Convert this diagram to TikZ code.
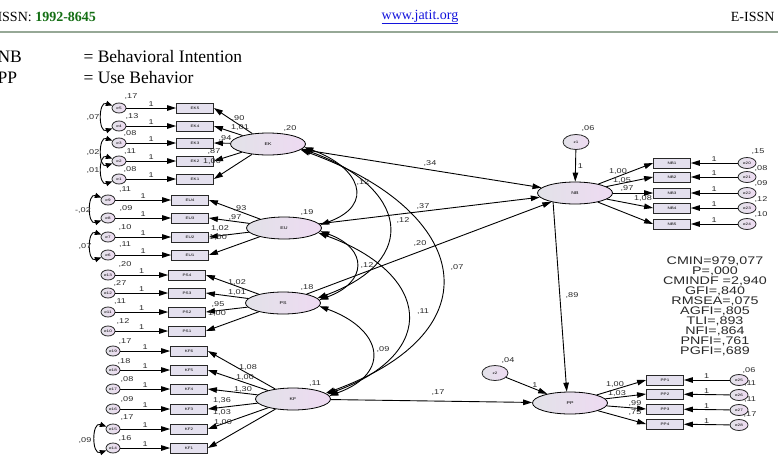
\documentclass[tikz,border=0pt]{standalone}
\usepackage{fontspec}
\setmainfont{Liberation Serif}
\newfontfamily\amos[FakeStretch=1.3]{Liberation Sans}
\usetikzlibrary{arrows.meta,shapes.geometric}
\definecolor{boxfill}{RGB}{228,224,238}
\definecolor{latl}{RGB}{226,226,232}
\definecolor{latr}{RGB}{238,218,242}
\definecolor{jgreen}{RGB}{20,110,20}
\definecolor{jblue}{RGB}{20,20,220}
\definecolor{rulec}{RGB}{150,168,150}
\definecolor{ink}{RGB}{40,40,40}

\begin{document}
\begin{tikzpicture}[x=1pt, y=-1pt,
    obs/.style={rectangle, draw=ink, thick, fill=boxfill, minimum width=37pt, minimum height=10pt, inner sep=0pt, font=\amos\fontsize{3.5}{4}\selectfont},
    lat/.style={ellipse, draw=black, thick, left color=latl, right color=latr, minimum width=75pt, minimum height=22pt, inner sep=0pt, font=\amos\fontsize{4}{4}\selectfont},
    err/.style={ellipse, draw=ink, thick, left color=latl, right color=latr, minimum width=14pt, minimum height=10pt, inner sep=0pt, font=\amos\fontsize{3.5}{4}\selectfont},
    rerr/.style={err, minimum width=18pt, minimum height=11pt},
    dist/.style={err, minimum width=26pt, minimum height=15pt},
    lbl/.style={font=\amos\fontsize{7}{7}\selectfont, text=ink, inner sep=0pt},
    arr/.style={-{Triangle[length=9pt,width=5.5pt]}, line width=0.9pt},
    cov/.style={{Triangle[length=9pt,width=5.5pt]}-{Triangle[length=9pt,width=5.5pt]}, line width=0.9pt, out=-20, in=20, looseness=1.9},
    ecov/.style={{Triangle[length=6.5pt,width=5pt]}-{Triangle[length=6.5pt,width=5pt]}, line width=0.9pt, out=160, in=200, looseness=1.7}
]
    \useasboundingbox (0,0) rectangle (778,464);

    % Page header and key
    \node[anchor=west, font=\fontsize{14}{14}\selectfont] (issn) at (-6,17) {ISSN: \textcolor{jgreen}{\textbf{1992-8645}}};
    \node[font=\fontsize{14}{14}\selectfont, text=jblue] (web) at (420,17) {\underline{www.jatit.org}};
    \node[anchor=east, font=\fontsize{14}{14}\selectfont] (eissn) at (778,17) {E-ISSN};
    \draw[rulec, line width=1.2pt] (0,32) -- (778,32);
    \node[anchor=west, font=\fontsize{17.5}{18}\selectfont] (nbkey) at (-6,57) {NB};
    \node[anchor=west, font=\fontsize{17.5}{18}\selectfont] (nbtext) at (80,57) {= Behavioral Intention};
    \node[anchor=west, font=\fontsize{17.5}{18}\selectfont] (ppkey) at (-6,78) {PP};
    \node[anchor=west, font=\fontsize{17.5}{18}\selectfont] (pptext) at (80,78) {= Use Behavior};

    % Latent variables
    \node[lat] (EK) at (268,144) {EK};
    \node[lat] (EU) at (284,228) {EU};
    \node[lat] (PS) at (283,303) {PS};
    \node[lat] (KF) at (293,399) {KF};
    \node[lat] (NB) at (575,193) {NB};
    \node[lat] (PP) at (570,403) {PP};

    % EK indicators
    \node[obs] (EK5) at (195,108) {EK5};
    \node[obs] (EK4) at (195,126) {EK4};
    \node[obs] (EK3) at (195,143) {EK3};
    \node[obs] (EK2) at (195,161) {EK2};
    \node[obs] (EK1) at (195,179) {EK1};
    \node[err] (e5) at (119,108) {e5};
    \node[err] (e4) at (119,126) {e4};
    \node[err] (e3) at (119,143) {e3};
    \node[err] (e2) at (119,161) {e2};
    \node[err] (e1) at (119,179) {e1};

    % EU indicators
    \node[obs] (EU4) at (190,200) {EU4};
    \node[obs] (EU3) at (190,218) {EU3};
    \node[obs] (EU2) at (190,237) {EU2};
    \node[obs] (EU1) at (190,255) {EU1};
    \node[err] (e9) at (108,200) {e9};
    \node[err] (e8) at (108,218) {e8};
    \node[err] (e7) at (108,237) {e7};
    \node[err] (e6) at (108,255) {e6};

    % PS indicators
    \node[obs] (PS4) at (187,275) {PS4};
    \node[obs] (PS3) at (187,293) {PS3};
    \node[obs] (PS2) at (187,312) {PS2};
    \node[obs] (PS1) at (187,331) {PS1};
    \node[err] (e13) at (108,275) {e13};
    \node[err] (e12) at (108,293) {e12};
    \node[err] (e11) at (108,312) {e11};
    \node[err] (e10) at (108,331) {e10};

    % KF indicators
    \node[obs] (KF6) at (189,351) {KF6};
    \node[obs] (KF5) at (189,370) {KF5};
    \node[obs] (KF4) at (189,389) {KF4};
    \node[obs] (KF3) at (189,409) {KF3};
    \node[obs] (KF2) at (189,429) {KF2};
    \node[obs] (KF1) at (189,448) {KF1};
    \node[err] (e19) at (113,351) {e19};
    \node[err] (e18) at (113,370) {e18};
    \node[err] (e17) at (113,389) {e17};
    \node[err] (e16) at (113,409) {e16};
    \node[err] (e15) at (113,429) {e15};
    \node[err] (e14) at (113,448) {e14};

    % NB and PP indicators
    \node[obs] (NB1) at (672,163) {NB1};
    \node[obs] (NB2) at (672,177) {NB2};
    \node[obs] (NB3) at (672,193) {NB3};
    \node[obs] (NB4) at (672,208) {NB4};
    \node[obs] (NB5) at (672,224) {NB5};
    \node[rerr] (e20) at (747,163) {e20};
    \node[rerr] (e21) at (747,177) {e21};
    \node[rerr] (e22) at (747,193) {e22};
    \node[rerr] (e23) at (747,208) {e23};
    \node[rerr] (e24) at (747,224) {e24};
    \node[obs] (PP1) at (665,380) {PP1};
    \node[obs] (PP2) at (665,394) {PP2};
    \node[obs] (PP3) at (665,409) {PP3};
    \node[obs] (PP4) at (665,424) {PP4};
    \node[rerr] (e25) at (739,380) {e25};
    \node[rerr] (e26) at (739,395) {e26};
    \node[rerr] (e27) at (739,410) {e27};
    \node[rerr] (e28) at (739,425) {e28};
    \node[dist] (z1) at (576,142) {z1};
    \node[dist] (z2) at (495,373) {z2};

    % Error to indicator paths
    \draw[arr] (e5) -- node[lbl, above=1pt] {1} (EK5);
    \draw[arr] (e4) -- node[lbl, above=1pt] {1} (EK4);
    \draw[arr] (e3) -- node[lbl, above=1pt] {1} (EK3);
    \draw[arr] (e2) -- node[lbl, above=1pt] {1} (EK2);
    \draw[arr] (e1) -- node[lbl, above=1pt] {1} (EK1);
    \draw[arr] (e9) -- node[lbl, above=1pt] {1} (EU4);
    \draw[arr] (e8) -- node[lbl, above=1pt] {1} (EU3);
    \draw[arr] (e7) -- node[lbl, above=1pt] {1} (EU2);
    \draw[arr] (e6) -- node[lbl, above=1pt] {1} (EU1);
    \draw[arr] (e13) -- node[lbl, above=1pt] {1} (PS4);
    \draw[arr] (e12) -- node[lbl, above=1pt] {1} (PS3);
    \draw[arr] (e11) -- node[lbl, above=1pt] {1} (PS2);
    \draw[arr] (e10) -- node[lbl, above=1pt] {1} (PS1);
    \draw[arr] (e19) -- node[lbl, above=1pt] {1} (KF6);
    \draw[arr] (e18) -- node[lbl, above=1pt] {1} (KF5);
    \draw[arr] (e17) -- node[lbl, above=1pt] {1} (KF4);
    \draw[arr] (e16) -- node[lbl, above=1pt] {1} (KF3);
    \draw[arr] (e15) -- node[lbl, above=1pt] {1} (KF2);
    \draw[arr] (e14) -- node[lbl, above=1pt] {1} (KF1);
    \draw[arr] (e20) -- node[lbl, above=1pt] {1} (NB1);
    \draw[arr] (e21) -- node[lbl, above=1pt] {1} (NB2);
    \draw[arr] (e22) -- node[lbl, above=1pt] {1} (NB3);
    \draw[arr] (e23) -- node[lbl, above=1pt] {1} (NB4);
    \draw[arr] (e24) -- node[lbl, above=1pt] {1} (NB5);
    \draw[arr] (e25) -- node[lbl, above=1pt] {1} (PP1);
    \draw[arr] (e26) -- node[lbl, above=1pt] {1} (PP2);
    \draw[arr] (e27) -- node[lbl, above=1pt] {1} (PP3);
    \draw[arr] (e28) -- node[lbl, above=1pt] {1} (PP4);

    % Error covariances
    \draw[ecov] (e5.160) to (e4.200);
    \draw[ecov] (e3.160) to (e2.200);
    \draw[ecov] (e2.160) to (e1.200);
    \draw[ecov] (e9.160) to (e8.200);
    \draw[ecov] (e7.160) to (e6.200);
    \draw[ecov] (e15.160) to (e14.200);

    % Loadings
    \foreach \i in {5,4,3,2,1} \draw[arr] (EK) -- (EK\i.east);
    \foreach \i in {4,3,2,1} \draw[arr] (EU) -- (EU\i.east);
    \foreach \i in {4,3,2,1} \draw[arr] (PS) -- (PS\i.east);
    \foreach \i in {6,5,4,3,2,1} \draw[arr] (KF) -- (KF\i.east);
    \foreach \i in {1,...,5} \draw[arr] (NB) -- (NB\i.west);
    \foreach \i in {1,...,4} \draw[arr] (PP) -- (PP\i.west);

    % Structural paths
    \draw[arr] (EK) -- (NB);
    \draw[arr] (EU) -- (NB);
    \draw[arr] (PS) -- (NB);
    \draw[arr] (KF) -- (PP);
    \draw[arr] (NB.203) -- (PP.106);
    \draw[arr] (z1) -- node[lbl, right=2pt] {1} (NB);
    \draw[arr] (z2) -- node[lbl, pos=0.7, above=1pt] {1} (PP);

    % Latent covariances
    \draw[cov] (EK.-5) to (EU.5);
    \draw[cov] (EK.-8) to (PS.8);
    \draw[cov] (EK.-10) to (KF.10);
    \draw[cov] (EU.-5) to (PS.5);
    \draw[cov] (EU.-8) to (KF.8);
    \draw[cov] (PS.-5) to (KF.5);

    % Variance labels
    \node[lbl] (vEK) at (290,128) {,20};
    \node[lbl] (vEU) at (307,212) {,19};
    \node[lbl] (vPS) at (307,287) {,18};
    \node[lbl] (vKF) at (315,384) {,11};
    \node[lbl] (vz1) at (588,128) {,06};
    \node[lbl] (vz2) at (508,360) {,04};
    \node[lbl] (ve5) at (131,97) {,17};
    \node[lbl] (ve4) at (132,116) {,13};
    \node[lbl] (ve3) at (130,133) {,08};
    \node[lbl] (ve2) at (130,152) {,11};
    \node[lbl] (ve1) at (130,169) {,08};
    \node[lbl] (ve9) at (125,190) {,11};
    \node[lbl] (ve8) at (126,208) {,09};
    \node[lbl] (ve7) at (125,227) {,10};
    \node[lbl] (ve6) at (125,245) {,11};
    \node[lbl] (ve13) at (125,264) {,20};
    \node[lbl] (ve12) at (120,283) {,27};
    \node[lbl] (ve11) at (120,302) {,11};
    \node[lbl] (ve10) at (123,321) {,12};
    \node[lbl] (ve19) at (125,342) {,17};
    \node[lbl] (ve18) at (124,361) {,18};
    \node[lbl] (ve17) at (127,379) {,08};
    \node[lbl] (ve16) at (127,399) {,09};
    \node[lbl] (ve15) at (127,418) {,17};
    \node[lbl] (ve14) at (125,438) {,16};
    \node[lbl] (ve20) at (758,152) {,15};
    \node[lbl] (ve21) at (761,168) {,08};
    \node[lbl] (ve22) at (761,183) {,09};
    \node[lbl] (ve23) at (761,199) {,12};
    \node[lbl] (ve24) at (761,214) {,10};
    \node[lbl] (ve25) at (749,370) {,06};
    \node[lbl] (ve26) at (750,384) {,11};
    \node[lbl] (ve27) at (750,400) {,11};
    \node[lbl] (ve28) at (750,415) {,17};

    % Covariance labels
    \node[lbl] (c54) at (93,117) {,07};
    \node[lbl] (c32) at (93,152) {,02};
    \node[lbl] (c21) at (93,170) {,01};
    \node[lbl] (c98) at (83,210) {-,02};
    \node[lbl] (c76) at (85,246) {,07};
    \node[lbl] (c1514) at (85,440) {,09};
    \node[lbl] (cEKEU) at (363,182) {,12};
    \node[lbl] (cEKPS) at (403,220) {,12};
    \node[lbl] (cEKKF) at (457,267) {,07};
    \node[lbl] (cEUPS) at (367,265) {,12};
    \node[lbl] (cEUKF) at (423,312) {,11};
    \node[lbl] (cPSKF) at (383,349) {,09};

    % Path labels
    \node[lbl] (bEK) at (430,163) {,34};
    \node[lbl] (bEU) at (423,206) {,37};
    \node[lbl] (bPS) at (420,243) {,20};
    \node[lbl] (bKF) at (438,393) {,17};
    \node[lbl] (bNB) at (572,295) {,89};

    % Loading labels
    \node[lbl] (lEK5) at (238,118) {,90};
    \node[lbl] (lEK4) at (240,127) {1,01};
    \node[lbl] (lEK3) at (225,138) {,94};
    \node[lbl] (lEK2) at (214,151) {,87};
    \node[lbl] (lEK1) at (212,161) {1,00};
    \node[lbl] (lEU4) at (240,208) {,93};
    \node[lbl] (lEU3) at (235,217) {,97};
    \node[lbl] (lEU2) at (220,228) {1,02};
    \node[lbl] (lEU1) at (218,237) {1,00};
    \node[lbl] (lPS4) at (237,282) {1,02};
    \node[lbl] (lPS3) at (237,292) {1,01};
    \node[lbl] (lPS2) at (218,304) {,95};
    \node[lbl] (lPS1) at (217,313) {1,00};
    \node[lbl] (lKF6) at (248,367) {1,08};
    \node[lbl] (lKF5) at (245,377) {1,00};
    \node[lbl] (lKF4) at (243,389) {1,30};
    \node[lbl] (lKF3) at (222,400) {1,36};
    \node[lbl] (lKF2) at (222,412) {1,03};
    \node[lbl] (lKF1) at (223,422) {1,00};
    \node[lbl] (lNB1) at (618,171) {1,00};
    \node[lbl] (lNB2) at (622,180) {1,05};
    \node[lbl] (lNB3) at (627,188) {,97};
    \node[lbl] (lNB4) at (643,198) {1,08};
    \node[lbl] (lPP1) at (615,384) {1,00};
    \node[lbl] (lPP2) at (617,393) {1,03};
    \node[lbl] (lPP3) at (635,403) {,99};
    \node[lbl] (lPP4) at (635,413) {,75};

    % Fit indices
    \node[lbl, font=\amos\fontsize{11}{10}\selectfont, align=center] (fit) at (715,306) {CMIN=979,077\\P=,000\\CMINDF =2,940\\GFI=,840\\RMSEA=,075\\AGFI=,805\\TLI=,893\\NFI=,864\\PNFI=,761\\PGFI=,689};
\end{tikzpicture}
\end{document}
